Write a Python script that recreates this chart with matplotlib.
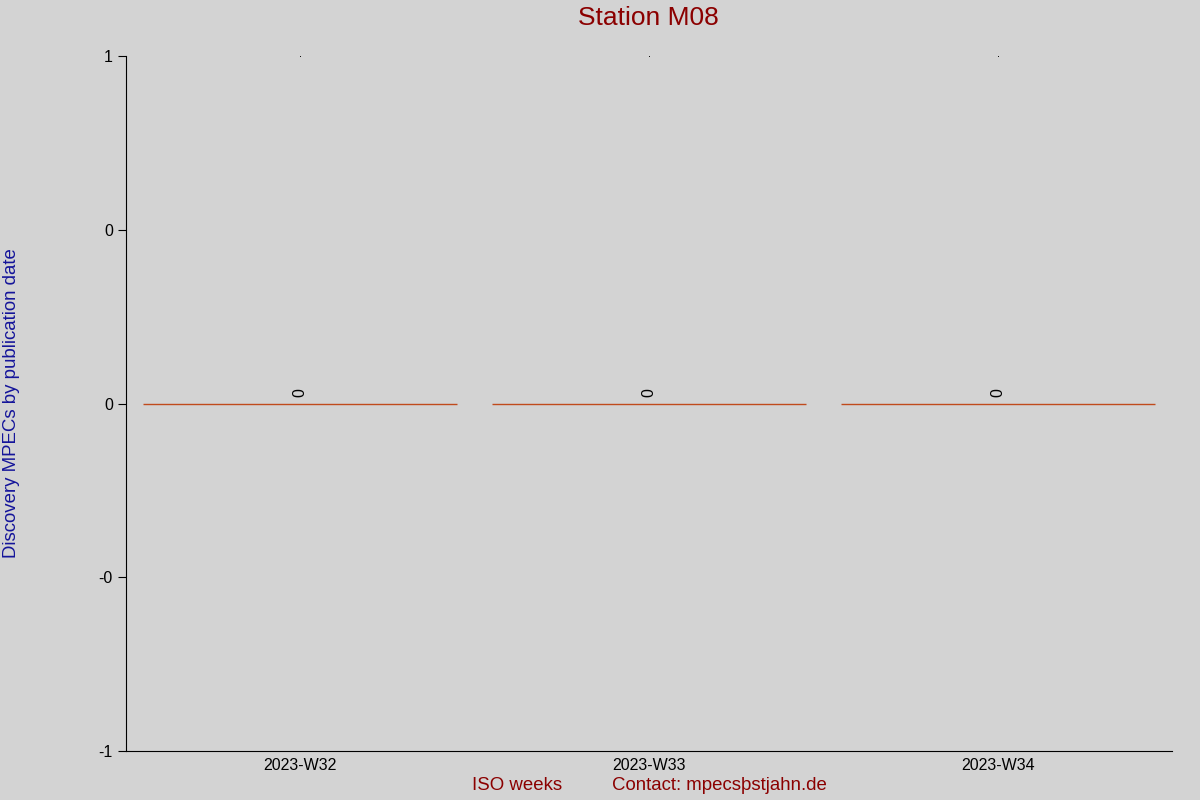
import numpy as np
import matplotlib
matplotlib.use("Agg")
from matplotlib import pyplot as plt
from matplotlib.ticker import FormatStrFormatter

weeks = ["2023-W32", "2023-W33", "2023-W34"]
counts = [0, 0, 0]

plt.rcParams['font.family'] = ['Liberation Sans', 'DejaVu Sans']

fig = plt.figure(figsize=(12, 8), dpi=100, facecolor='#d3d3d3')
ax = fig.add_axes([0.105, 0.06125, 0.8717, 0.86875])
ax.set_facecolor('#d3d3d3')

x = np.arange(len(weeks))
ax.bar(x, counts, width=0.9, color='#d3d3d3', edgecolor='#c04a1c', linewidth=1)
# tiny marks at the top of the scale
ax.plot(x, [1] * len(x), linestyle='none', marker='s', markersize=0.6,
        markeredgewidth=0, color='black')
for xi, c in zip(x, counts):
    ax.text(xi, c + 0.02, str(c), rotation=90, ha='center', va='bottom', fontsize=11.5)

ax.set_xlim(-0.5, len(weeks) - 0.5)
ax.set_ylim(-1, 1)
ax.set_yticks([-1, -0.5, 0, 0.5, 1])
ax.yaxis.set_major_formatter(FormatStrFormatter('%.0f'))
ax.set_xticks(x)
ax.set_xticklabels(weeks)
ax.tick_params(axis='x', length=0, pad=5, labelsize=11.5)
ax.tick_params(axis='y', length=6, labelsize=11.5)
ax.spines['top'].set_visible(False)
ax.spines['right'].set_visible(False)

fig.text(0.54, 0.9775, 'Station M08', ha='center', va='center', fontsize=19, color='#8b0000')
fig.text(0.0092, 0.4965, 'Discovery MPECs by publication date', rotation=90,
         ha='center', va='center', fontsize=13.4, color='#14149a')
fig.text(0.431, 0.0175, 'ISO weeks', ha='center', va='center', fontsize=13.4, color='#8b0000')
fig.text(0.5995, 0.0175, 'Contact: mpecs\u00festjahn.de', ha='center', va='center',
         fontsize=13.4, color='#8b0000')

fig.savefig('out.png', dpi=100, facecolor=fig.get_facecolor())
